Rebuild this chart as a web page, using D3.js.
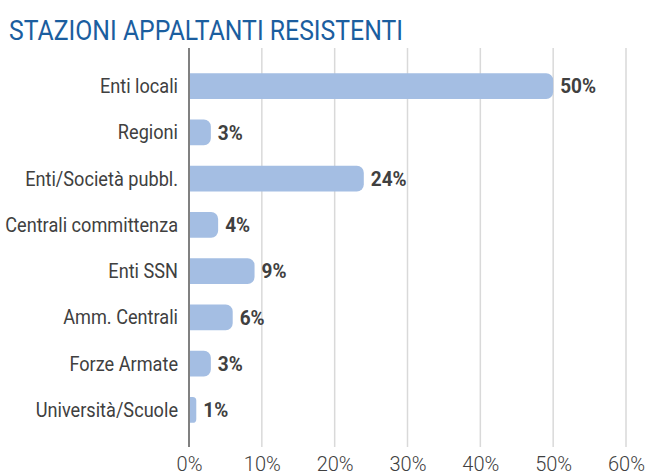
<!DOCTYPE html>
<html>
<head>
<meta charset="utf-8">
<script src="https://cdn.jsdelivr.net/npm/d3@7"></script>
<style>
  html, body { margin: 0; padding: 0; background: #ffffff; }
  svg { display: block; }
</style>
</head>
<body>
<svg id="chart" width="648" height="475"></svg>
<script>
// Stazioni appaltanti resistenti — share of cases by contracting authority type
const titleText = "STAZIONI APPALTANTI RESISTENTI";
const categories = [
  "Enti locali",
  "Regioni",
  "Enti/Società pubbl.",
  "Centrali committenza",
  "Enti SSN",
  "Amm. Centrali",
  "Forze Armate",
  "Università/Scuole"
];
const shares = [50, 3, 24, 4, 9, 6, 3, 1];
const tickValues = [0, 10, 20, 30, 40, 50, 60];

const svg = d3.select("#chart");
const font = "Roboto, 'Liberation Sans', sans-serif";

const x = d3.scaleLinear().domain([0, 60]).range([189, 626]);
const y = d3.scaleBand().domain(categories).range([63, 433]).paddingInner(0.44).paddingOuter(0.22);

const gridTop = 48, gridBottom = 447;

// Narrow a text run horizontally, keeping its anchor point
function condense(sel, k) {
  sel.each(function () {
    const w = this.getComputedTextLength();
    d3.select(this).attr("textLength", w * k).attr("lengthAdjust", "spacingAndGlyphs");
  });
}

// Title
svg.append("text")
  .attr("x", 9).attr("y", 40)
  .attr("font-family", font)
  .attr("font-size", 27)
  .attr("fill", "#1b5e9f")
  .attr("textLength", 394)
  .attr("lengthAdjust", "spacingAndGlyphs")
  .text(titleText);

// Vertical gridlines
svg.append("g")
  .selectAll("line")
  .data(tickValues.slice(1))
  .join("line")
  .attr("x1", d => x(d)).attr("x2", d => x(d))
  .attr("y1", gridTop).attr("y2", gridBottom)
  .attr("stroke", "#d9d9d9").attr("stroke-width", 1.5);

// Bars: square at the axis, rounded at the tip
const r = 7;
const rows = categories.map((c, i) => ({ c, v: shares[i] }));
svg.append("g")
  .selectAll("path")
  .data(rows)
  .join("path")
  .attr("fill", "#a4bee3")
  .attr("d", d => {
    const x0 = x(0), x1 = x(d.v), y0 = y(d.c), h = y.bandwidth();
    const rr = Math.min(r, (x1 - x0) / 2, h / 2);
    return `M${x0},${y0} H${x1 - rr} A${rr},${rr} 0 0 1 ${x1},${y0 + rr} V${y0 + h - rr} A${rr},${rr} 0 0 1 ${x1 - rr},${y0 + h} H${x0} Z`;
  });

// Value labels
svg.append("g")
  .selectAll("text")
  .data(rows)
  .join("text")
  .attr("x", d => x(d.v) + 7)
  .attr("y", d => y(d.c) + y.bandwidth() / 2)
  .attr("dy", "0.36em")
  .attr("font-family", font)
  .attr("font-weight", 700)
  .attr("font-size", 20)
  .attr("fill", "#404040")
  .text(d => d.v + "%")
  .call(condense, 0.95);

// Category axis
const yAxis = svg.append("g")
  .attr("transform", `translate(${x(0)},0)`)
  .call(d3.axisLeft(y).tickSize(0).tickPadding(11));
yAxis.select(".domain").remove();
yAxis.selectAll("text")
  .attr("font-family", font)
  .attr("font-size", 19.5)
  .attr("dy", "0.36em")
  .attr("fill", "#404040")
  .call(condense, 0.93);
svg.append("line")
  .attr("x1", x(0)).attr("x2", x(0))
  .attr("y1", gridTop).attr("y2", gridBottom)
  .attr("stroke", "#808080").attr("stroke-width", 2);

// Value axis
const xAxis = svg.append("g")
  .attr("transform", `translate(0,${gridBottom})`)
  .call(d3.axisBottom(x).tickValues(tickValues).tickFormat(d => d + "%").tickSize(0).tickPadding(10));
xAxis.select(".domain").remove();
xAxis.selectAll("text")
  .attr("font-family", font)
  .attr("font-weight", 300)
  .attr("font-size", 20)
  .attr("fill", "#404040");
</script>
</body>
</html>
